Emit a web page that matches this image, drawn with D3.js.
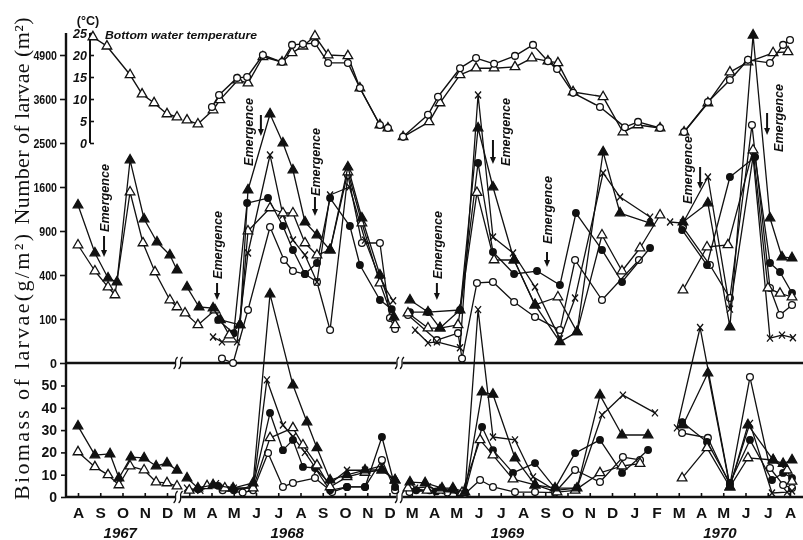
<!DOCTYPE html>
<html>
<head>
<meta charset="utf-8">
<script src="https://cdn.jsdelivr.net/npm/d3@7"></script>
<style>
  body { margin: 0; background: #fff; }
  text { fill: #111; }
</style>
</head>
<body>
<svg id="chart" width="803" height="540">
  <defs>
    <filter id="mono"><feColorMatrix type="saturate" values="0"/></filter>
  </defs>
</svg>
<script>
// ---- time axis: sampling months (Jan/Feb missing in the first two winters) ----
const months = ["A","S","O","N","D","M","A","M","J","J","A","S","O","N","D",
                "M","A","M","J","J","A","S","O","N","D","J","F","M","A","M","J","J","A"];
const years = ["1967", "1968", "1969", "1970"];
const yearMonth = [1.9, 9.4, 19.3, 28.85];
const breakMonths = [4.5, 14.45];

const numTicks = [0, 100, 400, 900, 1600, 2500, 3600, 4900];
const tempTicks = [0, 5, 10, 15, 20, 25];
const bioTicks = [0, 10, 20, 30, 40, 50];

// month index at which larval emergence was observed
const emergenceAt = [1.17, 6.25, 8.22, 10.65, 16.13, 18.65, 21.08, 27.96, 30.97];

// ---- bottom water temperature (°C), [month, value]; null = gap ----
const tempTri = [[0.67,24.1],[1.3,22],[2.34,15.5],[2.88,11.1],[3.42,9.1],[4.0,6.6],[4.45,5.9],null,
  [4.9,5.2],[5.39,4.3],[6.07,7.5],[6.38,9.8],[7.19,14.3],[7.64,13.6],[8.31,19.6],[9.17,18.4],[9.62,20.5],
  [10.11,22.0],[10.65,24.3],[11.24,20.0],[12.13,19.8],[12.67,12.5],[13.57,4.1],[13.93,3.4],null,
  [14.61,1.4],[15.78,4.8],[16.27,9.1],[17.17,15.5],[17.89,17.0],[18.7,17.0],[19.64,17.3],[20.4,19.3],
  [21.12,18.6],[21.57,18.2],[22.25,11.6],[23.6,10.5],[24.49,2.5],[25.17,4.1],[26.16,3.4],null,
  [27.24,2.5],[28.31,9.1],[29.3,16.1],[30.11,18.4],[31.24,20.5],[31.91,20.7]];
const tempCirc = [[6.02,8.2],[6.34,10.9],[7.15,14.8],[7.6,15.0],[8.31,20.0],[9.17,18.4],[9.62,22.3],
  [10.11,22.5],[10.65,22.7],[11.24,18.2],[12.13,18.2],[12.67,12.5],[13.57,4.1],[13.93,3.4],null,
  [14.61,1.4],[15.73,6.4],[16.18,10.5],[17.17,17.0],[17.89,19.3],[18.7,18.0],[19.64,19.8],[20.45,22.3],
  [21.12,18.6],[21.53,16.8],[22.25,11.4],[23.46,8.2],[24.58,3.6],[25.17,4.8],[26.16,3.4],null,
  [27.24,2.5],[28.31,9.3],[29.3,14.3],[30.11,18.9],[31.1,18.2],[31.69,22.3],[32.0,23.4]];

// ---- number of larvae (per m²) by station ----
const numTriA = [[0,1289],[0.76,625],[1.35,373],[1.75,339],[2.34,2128],[2.97,1071],[3.55,756],[4.13,602],[4.45,447],null,
  [4.9,298],[5.44,162],[6.07,156],[6.4,96],[7.28,75],[7.64,1546],[8.63,3203],[9.21,2500],[9.66,1924],[10.2,1027],
  [10.74,846],[11.33,660],[12.13,1984],[12.76,1086],[13.57,400],[14.2,109],null,
  [14.92,205],[15.73,134],[16.27,63],[17.17,145],[17.98,2852],[18.65,1600],[19.6,548],[20.54,174],[21.66,23],
  [22.43,50],[23.6,2300],[24.36,1162],[25.71,1012],null,
  [27.19,1027],[28.31,1322],[29.3,67],[30.34,5550],[31.1,1086],[31.64,580],[32.09,570]];
const numTriB = [[0,719],[0.76,437],[1.35,298],[1.66,239],[2.34,1510],[2.92,744],[3.46,428],[4.13,205],[4.45,162],null,
  [4.81,129],[5.39,75],[6.16,145],[6.8,40],[7.28,75],[7.64,900],[8.63,1241],[9.21,1162],[9.66,1162],[10.2,744],
  [10.74,602],[11.33,660],[12.13,1884],[12.76,1012],[13.57,330],[14.25,75],null,
  [14.83,129],[15.73,63],[16.27,63],[17.08,75],[17.93,1500],[18.7,548],[19.6,548],[20.54,174],[21.57,225],
  [22.43,50],[23.55,846],[24.45,437],[25.26,683],[26.16,1131],null,
  [27.19,275],[28.27,695],[29.21,720],[30.34,2343],[31.01,290],[31.55,250],[32.09,225]];
const numDot = [[6.3,96],[7.0,46],[7.6,1322],[8.54,1406],[9.21,969],[9.66,660],[10.2,409],[10.74,517],
  [11.33,1406],[12.22,969],[12.67,496],[13.57,205],[14.1,150],null,
  [14.92,134],[15.73,134],[17.17,145],[17.98,2066],[18.65,636],[19.6,409],[20.63,437],[21.66,314],
  [22.38,1162],[23.55,660],[24.45,339],[25.71,683],null,
  [27.15,914],[28.27,496],[29.3,1787],[30.43,2192],[31.1,517],[31.55,428],[32.09,253]];
const numRing = [[6.47,1],[6.97,0],[7.64,145],[8.63,955],[9.26,548],[9.66,437],[10.2,409],[10.74,339],
  [11.33,56],[12.13,1825],[12.76,744],[13.57,744],[14.02,105],[14.25,60],null,
  [14.83,119],[16.13,27],[17.08,46],[17.26,1],[17.93,331],[18.65,339],[19.6,192],[20.54,109],[21.66,56],
  [22.34,548],[23.55,205],[25.21,548],null,
  [27.19,955],[28.4,496],[29.3,218],[30.29,2926],[31.1,290],[31.55,119],[32.09,174]];
const numCross = [[6.07,35],[6.47,23],[7.15,23],[7.64,625],[8.63,2235],[9.21,1131],[9.66,781],[10.2,602],
  [10.74,339],[11.33,1458],[12.2,1600],[12.9,780],[13.6,350],[14.16,200],null,
  [15.15,56],[15.73,21],[16.13,23],[17.17,12],[17.98,3710],[18.65,820],[19.55,625],[20.54,298],[21.66,30],
  [22.34,218],[23.6,1865],[24.36,1423],[25.71,1100],null,
  [26.61,1027],[27.19,1012],[28.31,1787],[29.3,150],[30.34,2200],[31.1,32],[31.64,40],[32.13,33]];

// ---- biomass of larvae (g/m²) by station ----
const bioTriA = [[0,31.8],[0.76,18.8],[1.44,19.3],[1.84,8.5],[2.38,17.9],[2.97,17.5],[3.51,13.9],[4.0,15.2],[4.45,12],null,
  [4.9,8.5],[5.39,4],[6.07,5.4],[6.97,4],[7.87,6.3],[8.63,91],[9.66,50.2],[10.29,33.6],[10.74,22],[11.33,7.6],
  [12.09,9.9],[12.9,12.1],[13.66,12.1],[14.25,7.6],null,
  [14.92,6.7],[15.6,6.3],[16.36,4],[16.85,4],[17.39,2.2],[18.16,47],[18.65,46],[19.64,17.5],[20.54,5.4],
  [21.44,4],[22.43,4],[23.46,45.7],[24.45,27.8],[25.62,27.8],null,
  [27.19,32.3],[28.31,55.6],[29.3,4.5],[30.11,32.3],[31.24,16.6],[31.69,15],[32.09,16.6]];
const bioTriB = [[0,20.2],[0.76,13.5],[1.35,9.9],[1.84,5.4],[2.34,13.9],[2.97,12.1],[3.51,6.7],[4.0,6.3],[4.45,4.9],null,
  [5.0,3],[5.8,5],[6.6,4],[7.87,4],[8.63,26.5],[9.66,31],[10.11,23.3],[10.74,14.3],[11.33,4.5],[12.09,9],
  [12.9,11],[13.66,12.1],[14.25,7.6],null,
  [14.83,4],[15.69,3],[16.27,3],[17.26,2],[18.07,25.6],[18.65,18.8],[19.55,8],[20.54,5.4],[21.53,2.2],
  [22.34,3],[23.46,10.8],[24.45,13.9],[25.26,15],null,
  [27.15,8.5],[28.27,22],[29.3,4.5],[30.11,17.5],[31.24,16.6],[31.87,12],[32.09,7]];
const bioDot = [[5.4,3.5],[6.3,5],[7.0,3],[7.87,5],[8.63,37.7],[9.21,21],[9.66,25.6],[10.11,13.5],[10.65,13],
  [11.33,3],[12.09,4.5],[12.9,4.5],[13.66,26.9],[14.25,4.5],null,
  [15.2,3],[16.1,2.5],[17.39,2],[18.16,31.4],[18.65,21],[19.55,10.8],[20.54,15.2],[21.44,4],[22.34,19.7],
  [23.46,25.6],[24.45,10.8],[25.62,21.1],null,
  [27.15,33.6],[28.27,24.7],[29.3,6.3],[30.2,25.6],[31.19,7.6],[31.69,10.8],[32.09,8.5]];
const bioRing = [[6.5,3],[7.4,2],[7.87,3],[8.54,19.7],[9.21,4.5],[9.66,6.3],[10.65,8.5],[11.42,2.2],[12.09,4.5],
  [12.9,4.5],[13.66,16.6],[14.25,3],null,
  [14.9,2.2],[15.8,3],[16.6,2],[17.39,1.5],[18.07,7.6],[18.65,4.5],[19.64,2.2],[20.54,2.2],[21.44,2],
  [22.34,12.1],[23.46,6.7],[24.49,17.9],[25.26,16.6],null,
  [27.15,28.7],[28.31,26.5],[29.3,5.4],[30.2,53.8],[31.1,13],[31.69,5.4],[32.09,4]];
const bioCross = [[4.9,4],[5.5,3],[6.2,6],[7.0,4],[7.87,4],[8.49,52.5],[9.21,32.3],[9.66,27],[10.2,20],
  [10.74,12],[11.33,6],[12.09,12],[12.9,12],[13.66,14],[14.16,7.6],null,
  [15.15,4],[15.73,4.5],[16.27,3],[16.85,3],[17.39,2],[17.98,84],[18.65,26.9],[19.64,25.6],[20.45,9],
  [21.44,3],[22.43,4],[23.55,36.8],[24.49,45.7],[25.93,37.7],null,
  [26.92,31],[27.96,76],[29.3,5],[30.2,33],[31.19,1.8],[31.87,2.2],[32.09,2.7]];

// ---------------------------------------------------------------------------
const svg = d3.select("#chart");
const ink = "#111";
const sans = "'Liberation Sans', Arial, sans-serif";
const serif = "'Liberation Serif', 'Times New Roman', serif";

const x = d3.scaleLinear().domain([0, 32]).range([78, 790]);
const yNum = d3.scaleSqrt().domain([0, 4900]).range([363, 55]);
const yTemp = d3.scaleLinear().domain([0, 25]).range([143, 33]);
const yBio = d3.scaleLinear().domain([0, 50]).range([497, 385.5]);

const axisX0 = 66, rightEdge = 803;

// ---- axes ----
const axes = svg.append("g").attr("filter", "url(#mono)");
axes.append("line").attr("x1", axisX0).attr("x2", axisX0).attr("y1", 33).attr("y2", 497)
  .attr("stroke", ink).attr("stroke-width", 2.4);
[yNum(0), yBio(0)].forEach(yy => {
  axes.append("line").attr("x1", axisX0).attr("x2", rightEdge).attr("y1", yy).attr("y2", yy)
    .attr("stroke", ink).attr("stroke-width", 2.4);
});

function styleAxis(g) {
  g.select(".domain").remove();
  g.selectAll(".tick line").attr("stroke", ink).attr("stroke-width", 1.6);
}

const gNum = axes.append("g").attr("transform", `translate(${axisX0},0)`)
  .call(d3.axisLeft(yNum).tickValues(numTicks).tickSize(6).tickPadding(3).tickFormat(d3.format("d")));
styleAxis(gNum);
gNum.selectAll("text").attr("font-family", sans).attr("font-size", 12.5).attr("font-weight", "bold")
  .attr("fill", ink).each(function () {
    const s = d3.select(this).text();
    if (s.length > 1) d3.select(this).attr("textLength", s.length * 5.9).attr("lengthAdjust", "spacingAndGlyphs");
  });

const gBio = axes.append("g").attr("transform", `translate(${axisX0},0)`)
  .call(d3.axisLeft(yBio).tickValues(bioTicks).tickSize(5).tickPadding(4));
styleAxis(gBio);
gBio.selectAll("text").attr("font-family", sans).attr("font-size", 14).attr("font-weight", "bold").attr("fill", ink);

// temperature axis
const tempX = 90;
axes.append("line").attr("x1", tempX).attr("x2", tempX).attr("y1", yTemp(25)).attr("y2", yTemp(0))
  .attr("stroke", ink).attr("stroke-width", 2);
const gTemp = axes.append("g").attr("transform", `translate(${tempX},0)`)
  .call(d3.axisLeft(yTemp).tickValues(tempTicks).tickSizeInner(-4).tickSizeOuter(0).tickPadding(3));
styleAxis(gTemp);
gTemp.selectAll("text").attr("font-family", sans).attr("font-size", 12.5).attr("font-weight", "bold")
  .attr("font-style", "italic").attr("fill", ink);
axes.append("text").attr("x", 88).attr("y", 25).attr("text-anchor", "middle")
  .attr("font-family", sans).attr("font-size", 12.5).attr("font-weight", "bold").text("(°C)");
axes.append("text").attr("x", 105).attr("y", 39)
  .attr("font-family", sans).attr("font-size", 11.5).attr("font-weight", "bold").attr("font-style", "italic")
  .attr("textLength", 152).attr("lengthAdjust", "spacingAndGlyphs")
  .text("Bottom water temperature");

// month axis
const gX = axes.append("g").attr("transform", `translate(0,${yBio(0)})`)
  .call(d3.axisBottom(x).tickValues(d3.range(months.length)).tickFormat(i => months[i])
    .tickSizeInner(-4).tickSizeOuter(0).tickPadding(10));
styleAxis(gX);
gX.selectAll("text").attr("font-family", sans).attr("font-size", 15.5).attr("font-weight", "bold").attr("fill", ink);

axes.selectAll(".year").data(years).join("text")
  .attr("x", (d, i) => x(yearMonth[i])).attr("y", 538).attr("text-anchor", "middle")
  .attr("font-family", sans).attr("font-size", 15).attr("font-weight", "bold").attr("font-style", "italic")
  .text(d => d);

// axis breaks where winter months are missing
breakMonths.forEach(m => {
  [yNum(0), yBio(0)].forEach(yy => {
    const bx = x(m);
    axes.append("rect").attr("x", bx - 3).attr("y", yy - 3).attr("width", 6).attr("height", 6).attr("fill", "#fff");
    [-2.5, 2.5].forEach(o => axes.append("path")
      .attr("d", `M${bx + o - 2},${yy + 6} C${bx + o + 3},${yy + 2} ${bx + o - 3},${yy - 2} ${bx + o + 2},${yy - 6}`)
      .attr("fill", "none").attr("stroke", ink).attr("stroke-width", 1.2));
  });
});

// left title
const title = svg.append("g").attr("filter", "url(#mono)");
[["Number of larvae (m²)", 121, 207], ["Biomass of larvae(g/m²)", 367, 266]].forEach(([t, cy, len]) => {
  title.append("text").attr("transform", `translate(29,${cy}) rotate(-90)`)
    .attr("text-anchor", "middle").attr("font-family", serif).attr("font-size", 22)
    .attr("textLength", len).attr("lengthAdjust", "spacing").text(t);
});

// ---- markers ----
const markers = {
  triFill: { path: d3.symbol(d3.symbolTriangle, 40)(), fill: ink },
  triOpen: { path: d3.symbol(d3.symbolTriangle, 40)(), fill: "#fff" },
  dot: { path: d3.symbol(d3.symbolCircle, 34)(), fill: ink },
  ring: { path: d3.symbol(d3.symbolCircle, 36)(), fill: "#fff" },
  cross: { path: "M-3,-3.5L3,3.5M3,-3.5L-3,3.5", fill: "none" }
};

function drawSeries(data, yScale, markerKey, opts = {}) {
  const g = svg.append("g");
  const line = d3.line().defined(d => d !== null).x(d => x(d[0])).y(d => yScale(d[1]));
  g.append("path").datum(data).attr("d", line)
    .attr("fill", "none").attr("stroke", ink).attr("stroke-width", opts.width || 1.3)
    .attr("stroke-linejoin", "round");
  const m = markers[markerKey];
  g.selectAll("path.m").data(data.filter(d => d !== null)).join("path").attr("class", "m")
    .attr("transform", d => `translate(${x(d[0])},${yScale(d[1])})`)
    .attr("d", m.path).attr("fill", m.fill).attr("stroke", ink).attr("stroke-width", 1.3);
}

// temperature
drawSeries(tempTri, yTemp, "triOpen", { width: 1.4 });
drawSeries(tempCirc, yTemp, "ring", { width: 1.4 });

// numbers
drawSeries(numRing, yNum, "ring");
drawSeries(numDot, yNum, "dot");
drawSeries(numCross, yNum, "cross");
drawSeries(numTriB, yNum, "triOpen");
drawSeries(numTriA, yNum, "triFill");

// biomass
drawSeries(bioRing, yBio, "ring");
drawSeries(bioDot, yBio, "dot");
drawSeries(bioCross, yBio, "cross");
drawSeries(bioTriB, yBio, "triOpen");
drawSeries(bioTriA, yBio, "triFill");

// ---- emergence annotations ----
const emergLayout = [
  { dx: 0, ty: 198, a0: 236, a1: 257 },
  { dx: 0, ty: 245, a0: 283, a1: 300 },
  { dx: -13, ty: 132, a0: 115, a1: 136 },
  { dx: 0, ty: 162, a0: 197, a1: 216 },
  { dx: 0, ty: 245, a0: 283, a1: 300 },
  { dx: 12, ty: 132, a0: 140, a1: 164 },
  { dx: 0, ty: 210, a0: 252, a1: 267 },
  { dx: -13, ty: 170, a0: 167, a1: 189 },
  { dx: 11, ty: 118, a0: 113, a1: 135 }
];
const ann = svg.append("g").attr("filter", "url(#mono)");
emergenceAt.forEach((m, i) => {
  const L = emergLayout[i];
  const ax = x(m);
  const tx = ax + L.dx;
  ann.append("text").attr("transform", `translate(${tx + 5},${L.ty}) rotate(-90)`)
    .attr("text-anchor", "middle").attr("font-family", sans).attr("font-size", 13.5)
    .attr("font-style", "italic").attr("font-weight", 600)
    .attr("textLength", 68).attr("lengthAdjust", "spacingAndGlyphs")
    .text("Emergence");
  ann.append("line").attr("x1", ax).attr("x2", ax).attr("y1", L.a0).attr("y2", L.a1 - 5)
    .attr("stroke", ink).attr("stroke-width", 2);
  ann.append("path").attr("d", `M${ax - 3},${L.a1 - 7}L${ax + 3},${L.a1 - 7}L${ax},${L.a1}Z`).attr("fill", ink);
});
</script>
</body>
</html>
